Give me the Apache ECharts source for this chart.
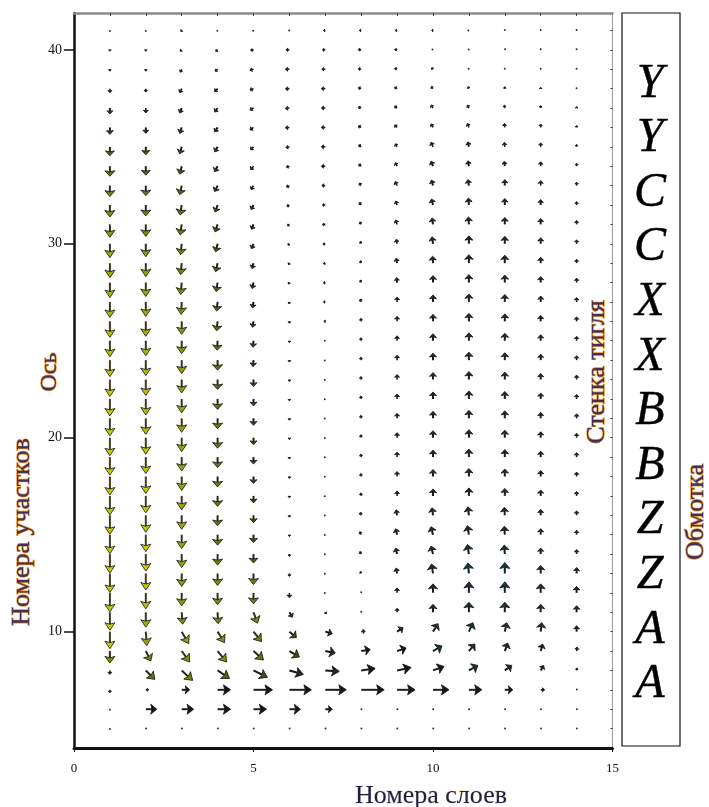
<!DOCTYPE html>
<html><head><meta charset="utf-8">
<script src="https://cdn.jsdelivr.net/npm/echarts@6/dist/echarts.min.js"></script>
<style>html,body{margin:0;padding:0;background:#fff}#c{width:709px;height:807px}</style>
</head><body><div id="c"></div>
<script>
// Layer numbers (x) and section numbers (y, top to bottom)
const layerNumbers = [1,2,3,4,5,6,7,8,9,10,11,12,13,14];
const sectionNumbers = [41,40,39,38,37,36,35,34,33,32,31,30,29,28,27,26,25,24,23,22,21,20,19,18,17,16,15,14,13,12,11,10,9,8,7,6,5];
const xTickValues = [0,5,10,15];
const yTickValues = [10,20,30,40];
const windingLetters = ['Y','Y','C','C','X','X','B','B','Z','Z','A','A'];

// Horizontal (u) and vertical (v) field components, one array per layer column, rows 41 -> 5
const uByColumn = [
 [0,0,0,0,0,0,0,0,0,0,0,0,0, 0,0,0,0,0,0,0,0,0,0,0,0, 0,0,0,0,0,0, 0,0,0,0,0,0],
 [0,0,0,0,0,0,0,0,0,0,0,0,0, 0,0,0,0,0,0,0,0,0,0,0,0, 0,0,0,0,0,0, 1,5,9,3,11,0.5],
 [-1,-1.5,-1.5,-2,-2,-2,-2,-2,-2,-1.5,-1.5,-1,-1, -1,-0.5,0,0,0,0,0,0,0,0,0,0, 0,0,0,0,0,1, 7,8,11,8,12,0.5],
 [-0.5,-2,-2.5,-3,-3,-3,-3,-3,-3,-2.5,-2.5,-2,-2, -1.5,-1,-1,-0.5,0,0,0,0,0,0,0,0, 0,0,0,0,0,0.5, 7,9,12,13,13,0.5],
 [-0.5,-3,-3.5,-3.5,-3.5,-3.5,-3,-3,-2.5,-2.5,-2,-2,-1.5, -1.5,-1,-1,-0.5,-0.5,0,0,0,0,0,0,0, 0,0,0,0,0,4, 8,10,14,19,13,0.5],
 [-0.5,-3.5,-4,-4,-4,-4,-3.5,-3,-3,-2.5,-2,-1.5,-1, -1,-0.5,0,0,0,0,0,0,0,0,0,0, 0,0,0,0,0,3, 7,10,14,22,11,0.5],
 [-2,-3,-3.5,-4,-4,-4,-4,-4,-3.5,-3,-3,-2.5,-2, -2,-2,-1.5,-1,-1,-1,-1,-1,-1,-1,-1,-1, -1,-1,-1,-1,-1,1, 7,10,14,21,7,0.5],
 [-2,-3,-3,-3,-3,-3,-2.5,-2.5,-2,-2,-1.5,-1,-1, -1,-1,-0.5,-0.5,-0.5,-0.5,-0.5,-0.5,-0.5,-0.5,-0.5,-0.5, -1,-1.5,-1.5,-1,0,0, 4,9,14,23,0.5,0.5],
 [-2,-2.5,-2.5,-2.5,-2.5,-2.5,-2,-2,-2,-1.5,-1.5,-1,-1, -0.5,0,0,0,0,0,0,0,0,0,0,0, -1,-1.5,-1.5,-1,0,0, 6,9,14,18,0.5,0.5],
 [-1.5,-1,-1.5,-2,-2,-2,-2,-2,-1.5,-1.5,-1,-1,-0.5, 0,0,0,0,0,0,0,0,0,0,0,0, -1,-2,-2,-1.5,0,0, 5,9,11,16,0.5,0.5],
 [-1,-0.5,-0.5,-1,-1.5,-1.5,-1,-1,-1,-0.5,-0.5,0,0, 0,0,0,0,0,0,0,0,0,0,0,0, -1,-1.5,-1.5,-1,0,0, 4,6,9,13,0.5,0.5],
 [0,0.5,0,0,-0.5,-0.5,-0.5,-0.5,0,0,0,0,0, 0,0,0,0,0,0,0,0,0,0,0,0, -0.5,-0.5,-0.5,0,0,0, 2,3,7,8,0.5,0.5],
 [0,0,0,0,0,0,0,0,0,0,0,0,0, 0,0,0,0,0,0,0,0,0,0,0,0, 0,0,0,0,0,0, 1,2,3,4,0.5,0.5],
 [0,0,0,0,0,0,0,0,0,0,0,0,0, 0,0,0,0,0,0,0,0,0,0,0,0, 0,0,0,0,0,0, 0,0.5,0.5,0.5,0.5,0.5]
];
const vByColumn = [
 [-1,-1.5,-2,-4,-6,-7,-9,-10,-11,-12,-13,-14,-14.5, -15,-15.5,-16,-16,-16.5,-17,-17,-17.5,-18,-18,-18.5,-19, -19,-19,-19,-19,-19,-18, -17,-12,-4,-3,-1,-1],
 [-1,-1.5,-2,-3.5,-5,-6,-8,-9,-10,-11,-12,-13,-13.5, -14,-14.5,-15,-15,-15.5,-16,-16,-16,-16.5,-16.5,-17,-17, -17,-17,-17,-16.5,-16,-15, -14,-10,-9,0,0,0],
 [-1,-1.5,-3,-4,-5,-6,-7,-8,-9,-10,-10.5,-11,-11.5, -12,-12.5,-13,-13,-13.5,-13.5,-14,-14,-14,-14,-14,-14, -14,-14,-13.5,-13,-13,-12, -12,-11,-10,0,0,0],
 [-0.5,-1.5,-2,-3,-4,-4.5,-5,-5.5,-6,-7,-7.5,-8,-8.5, -9,-9,-9.5,-9.5,-10,-10,-10.5,-10.5,-10.5,-10.5,-10.5,-10.5, -10.5,-10.5,-11,-12,-12,-11.5, -11,-11,-8,0,0,0],
 [-0.5,-0.5,-1,-1.5,-2,-2.5,-3,-3.5,-4,-4.5,-5,-5,-5.5, -6,-6,-6,-6.5,-6.5,-7,-7,-7,-7,-7,-7,-7, -7.5,-8,-9,-11,-11,-11, -10,-9,-7,0,0,0],
 [0,0,0,-0.3,-0.5,-0.5,-0.8,-1,-1.5,-1.5,-1.5,-1.5,-1.5, -1.5,-2,-2,-2,-2,-2,-2,-2,-2,-2,-2,-2, -2,-2,-2.5,-3,-5,-5, -6,-6,-4,0,0,0],
 [0,0,0,0,0,0,0,0,0,0,-0.3,-0.5,-0.5, -0.5,0,0,0,-0.5,-0.5,-0.5,-0.5,-0.5,-0.5,-0.5,-0.5, -0.5,-0.5,-0.5,-0.5,-0.5,-1.5, -2,-2,-1,0,0,0],
 [0,0.3,0.5,1,1,1.5,2,2,2.5,2.5,2.5,2.5,2.5, 2.5,3,3,3,3,3,3,3,3,3,3,3, 3,3,2.5,2,1,1, 0.5,1.5,2,0,0,0],
 [0,0.5,1,1.5,2,2.5,3,3.5,4,4,4.5,4.5,5, 5,5,5,5,5,5,5,5,5,5,5,5, 5.5,6,6,5.5,5,4, 4,3,3,0,0,0],
 [0,0.5,1.5,2,3,3.5,4.5,5,5.5,6,6.5,7,7, 7,7,7,7,7,7,7,7,7,7,7,7, 7.5,8,8,9.5,9,8, 8,5,4,0,0,0],
 [0,0.5,1,2,3,4,5,5.5,6,7,7.5,8,8.5, 8,8,8,8,8,8,8,8,8,8,8,8, 8.5,9,9.5,10.5,11,10, 9,7,5,0,0,0],
 [1,1,1,2,3,4,4.5,5,6,6.5,7,7.5,8, 7.5,7.5,7.5,7.5,7.5,7.5,7.5,7.5,7.5,7.5,7.5,7.5, 8,8.5,9,11,11,10, 9,8,5,0,0,0],
 [1,1,1,1.5,2.5,3.5,4,4.5,5,5.5,6,6,6, 6,6,6,6,6,6,6,6,6,6,6,6, 6,6,6,8,9,8, 9,7,5,0,0,0],
 [1,1,1,1,1.5,2,2.5,3,3.5,3.5,4,4,4, 4.5,4.5,4.5,4.5,4.5,4.5,4.5,4.5,4.5,4.5,4.5,4.5, 4.5,4.5,4.5,6,6.5,6.5, 6,4,2.5,0.5,0,0]
];

const arrowScale = 1; // screen pixels per field unit

const fieldData = [];
layerNumbers.forEach((x, c) => {
  sectionNumbers.forEach((y, r) => {
    fieldData.push([x, y, uByColumn[c][r], vByColumn[c][r]]);
  });
});

function clamp(a, lo, hi) { return Math.max(lo, Math.min(hi, a)); }
function mix(a, b, t) {
  return 'rgb(' + a.map((v, i) => Math.round(v + (b[i] - v) * t)).join(',') + ')';
}

function arrowColors(u, v, L) {
  if (v < 0) {
    const down = -v / L;
    const t = clamp((L - 5) / 12, 0, 1) * clamp((down - 0.3) / 0.6, 0, 1);
    return { head: mix([38, 40, 26], [196, 206, 0], t), shaft: mix([20, 20, 16], [80, 82, 44], t * 0.7) };
  }
  if (v > 0 && v >= Math.abs(u) * 0.5) {
    const t = clamp((L - 3) / 8, 0, 1);
    return { head: mix([34, 34, 34], [22, 52, 66], t), shaft: '#161c20' };
  }
  return { head: '#161616', shaft: '#1e1e1e' };
}

function renderArrow(params, api) {
  const x = api.value(0), y = api.value(1), u = api.value(2), v = api.value(3);
  const p = api.coord([x, y]);
  const dx = u * arrowScale, dy = -v * arrowScale;
  const L = Math.hypot(dx, dy);
  if (L < 1.3) {
    return { type: 'circle', shape: { cx: p[0] + dx / 2, cy: p[1] + dy / 2, r: 1 }, style: { fill: '#333' } };
  }
  const ex = dx / L, ey = dy / L;
  const nx = -ey, ny = ex;
  const tip = [p[0] + dx, p[1] + dy];
  const hl = clamp(L * 0.55, 1.6, 7.5);
  const hw = clamp(L * 0.5, 1.3, 5);
  const base = [tip[0] - ex * hl, tip[1] - ey * hl];
  const notch = [tip[0] - ex * hl * 0.8, tip[1] - ey * hl * 0.8];
  const col = arrowColors(u, v, L);
  return {
    type: 'group',
    children: [
      { type: 'line', shape: { x1: p[0], y1: p[1], x2: notch[0], y2: notch[1] },
        style: { stroke: col.shaft, lineWidth: L > 5 ? 2 : 1.6 } },
      { type: 'polygon', shape: { points: [tip, [base[0] + nx * hw, base[1] + ny * hw], notch, [base[0] - nx * hw, base[1] - ny * hw]] },
        style: { fill: col.head, stroke: '#121212', lineWidth: 0.8 } }
    ]
  };
}

const serif = 'Liberation Serif';
const orangeText = { fill: '#42305a', stroke: 'rgba(232,146,40,1)', lineWidth: 1.4 };

const graphics = [
  { type: 'text', x: 22, y: 532, rotation: Math.PI / 2, style: Object.assign({ text: 'Номера участков', font: '26px ' + serif, textAlign: 'center', textVerticalAlign: 'middle' }, orangeText) },
  { type: 'text', x: 50, y: 372, rotation: Math.PI / 2, style: Object.assign({ text: 'Ось', font: '24px ' + serif, textAlign: 'center', textVerticalAlign: 'middle' }, orangeText) },
  { type: 'text', x: 597, y: 372, rotation: Math.PI / 2, style: Object.assign({ text: 'Стенка тигля', font: '26px ' + serif, textAlign: 'center', textVerticalAlign: 'middle' }, orangeText) },
  { type: 'text', x: 696, y: 512, rotation: Math.PI / 2, style: Object.assign({ text: 'Обмотка', font: '26px ' + serif, textAlign: 'center', textVerticalAlign: 'middle' }, orangeText) },
  { type: 'text', x: 431, y: 796, style: { text: 'Номера слоев', font: '26px ' + serif, textAlign: 'center', textVerticalAlign: 'middle', fill: '#1c2048', stroke: 'rgba(200,140,60,0.35)', lineWidth: 0.8 } },
  { type: 'rect', shape: { x: 622, y: 13, width: 58, height: 733 }, style: { fill: 'none', stroke: '#111', lineWidth: 1.2 } }
];
windingLetters.forEach((t, i) => {
  graphics.push({ type: 'text', x: 650, y: 84 + i * 54.6,
    style: { text: t, font: 'italic 48px ' + serif, textAlign: 'center', textVerticalAlign: 'middle', fill: '#000', stroke: '#000', lineWidth: 0.4 } });
});

const chart = echarts.init(document.getElementById('c'), null, { renderer: 'canvas' });
chart.setOption({
  animation: false,
  backgroundColor: '#fff',
  grid: { left: 74, right: 96.5, top: 13, bottom: 59 },
  xAxis: [
    { type: 'value', min: 0, max: 15, interval: 5, position: 'bottom',
      axisLine: { show: true, onZero: false, lineStyle: { color: '#111', width: 3 } },
      axisTick: { show: true, length: 4, customValues: xTickValues, lineStyle: { color: '#111', width: 1 } },
      axisLabel: { customValues: xTickValues, fontFamily: serif, fontSize: 13, color: '#111', margin: 14 },
      splitLine: { show: false } },
    { type: 'value', min: 0, max: 15, position: 'top',
      axisLine: { show: true, onZero: false, lineStyle: { color: '#8a8a8a', width: 2.5 } },
      axisTick: { show: true, inside: true, length: 3, customValues: layerNumbers, lineStyle: { color: '#444', width: 1 } },
      axisLabel: { show: false }, splitLine: { show: false } }
  ],
  yAxis: [
    { type: 'value', min: 4, max: 41.9, position: 'left',
      axisLine: { show: true, onZero: false, lineStyle: { color: '#111', width: 2.5 } },
      axisTick: { show: true, length: 10, customValues: yTickValues, lineStyle: { color: '#111', width: 1.5 } },
      axisLabel: { customValues: yTickValues, fontFamily: serif, fontSize: 14, color: '#111', margin: 12 },
      splitLine: { show: false } },
    { type: 'value', min: 4, max: 41.9, position: 'right',
      axisLine: { show: true, onZero: false, lineStyle: { color: '#9a9a9a', width: 1 } },
      axisTick: { show: true, inside: true, length: 2, customValues: sectionNumbers, lineStyle: { color: '#333', width: 1 } },
      axisLabel: { show: false }, splitLine: { show: false } }
  ],
  graphic: graphics,
  series: [{
    type: 'custom',
    coordinateSystem: 'cartesian2d',
    xAxisIndex: 0, yAxisIndex: 0,
    renderItem: renderArrow,
    data: fieldData,
    clip: false,
    z: 5
  }]
});
</script>
</body></html>
